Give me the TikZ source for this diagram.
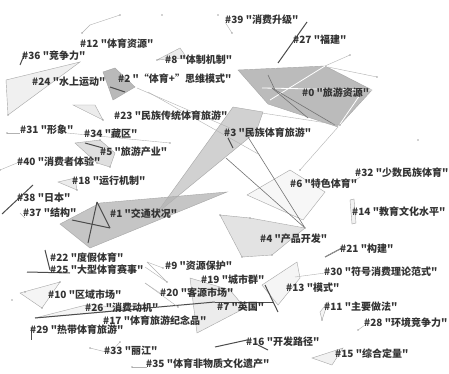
\documentclass[tikz,border=0pt]{standalone}
\usepackage{fontspec}
\newfontfamily\cjk{Noto Sans CJK SC}
\begin{document}
\begin{tikzpicture}[x=1pt,y=-1pt,
  lab/.style={font=\cjk\bfseries\fontsize{10}{10}\selectfont, text=black!80, anchor=west, inner sep=0pt},
  hull/.style={draw=gray!70, line width=0.4pt},
  thin/.style={draw=gray!60, line width=0.4pt},
  wline/.style={draw=white, line width=0.8pt},
  dline/.style={draw=black!70, line width=1pt},
  mline/.style={draw=black!55, line width=0.6pt},
  pt/.style={fill=gray!70, draw=none}]
\useasboundingbox (0,0) rectangle (449,374);
\fill[white] (0,0) rectangle (449,374);
% ---- hulls ----
\filldraw[hull, fill=gray!62, fill opacity=0.85] (238,70) -- (325,66) -- (372,90) -- (338,127) -- (268,104) -- cycle;
\filldraw[hull, fill=gray!45, fill opacity=0.8] (233,107) -- (263,112) -- (256,132) -- (156,214) -- cycle;
\filldraw[hull, fill=gray!60, fill opacity=0.75] (60,224) -- (100,203) -- (227,192) -- (90,248) -- cycle;
\filldraw[hull, fill=gray!55] (103,72) -- (115,68) -- (135,87) -- (113,100) -- cycle;
\filldraw[hull, fill=gray!12] (6,80) -- (80,62) -- (8,115) -- cycle;
\filldraw[hull, fill=gray!15] (157,60) -- (180,48) -- (187,58) -- cycle;
\filldraw[hull, fill=gray!15] (73,105) -- (95,105) -- (103,120) -- cycle;
\filldraw[hull, fill=gray!25] (75,143) -- (100,140) -- (115,153) -- (110,167) -- (97,163) -- cycle;
\filldraw[hull, fill=gray!15] (58,182) -- (75,178) -- (77,190) -- cycle;
\filldraw[hull, fill=gray!22] (220,215) -- (250,218) -- (305,228) -- (272,255) -- (242,257) -- cycle;
\filldraw[hull, fill=gray!6] (247,195) -- (290,170) -- (325,192) -- (303,220) -- cycle;
\filldraw[hull, fill=gray!8] (262,285) -- (297,262) -- (300,278) -- (278,305) -- cycle;
\filldraw[hull, fill=gray!15] (190,278) -- (230,290) -- (245,308) -- (197,333) -- cycle;
\filldraw[hull, fill=gray!10] (312,358) -- (332,365) -- (343,348) -- cycle;
\filldraw[hull, fill=gray!8] (35,318) -- (130,310) -- (90,304) -- cycle;
\filldraw[hull, fill=gray!8] (20,293) -- (42,308) -- (60,282) -- cycle;
\filldraw[hull, fill=gray!8] (320,312) -- (328,302) -- (322,320) -- cycle;
\filldraw[hull, fill=gray!10] (350,200) -- (354,199) -- (356,223) -- (352,224) -- cycle;
% ---- lines inside #0 ----
\draw[wline] (262,88) -- (372,90);
\draw[wline] (270,100) -- (325,66);
\draw[wline] (338,127) -- (360,95);
\draw[mline] (272,88) -- (308,118);
\draw[mline] (272,88) -- (335,125);
\draw[mline] (268,75) -- (275,90);
\draw[thin] (325,66) -- (350,55);
\draw[thin] (328,67) -- (377,77);
% ---- other lines ----
\draw[dline] (307,22) -- (278,63);
\draw[dline] (20,65) -- (25,53);
\draw[dline] (2,214) -- (33,185);
\draw[dline] (85,143) -- (103,148);
\draw[dline] (228,138) -- (233,148);
\draw[dline] (27,272) -- (70,273);
\draw[dline] (45,250) -- (50,270);
\draw[dline] (31,328) -- (31,340);
\draw[dline] (35,318) -- (215,302);
\draw[dline] (215,302) -- (273,302);
\draw[dline] (265,285) -- (278,312);
\draw[dline] (215,347) -- (247,340);
\draw[dline] (258,345) -- (268,350);
\draw[dline] (97,202) -- (88,243);
\draw[dline] (97,202) -- (110,228);
\draw[dline] (72,220) -- (110,228);
\draw[dline] (325,257) -- (342,248);
\draw[dline] (110,87) -- (125,92);
\draw[mline] (248,137) -- (305,228);
\draw[mline] (226,158) -- (305,228);
\draw[thin] (137,88) -- (230,128);
\draw[thin] (148,92) -- (260,155);
\draw[thin] (262,113) -- (340,125);
\draw[thin] (338,127) -- (300,170);
\draw[thin] (90,25) -- (120,15);
\draw[thin] (90,25) -- (82,33);
\draw[thin] (7,133) -- (20,133);
\draw[thin] (67,133) -- (170,143);
\draw[thin] (0,170) -- (17,163);
\draw[thin] (20,213) -- (25,218);
\draw[thin] (147,262) -- (163,268);
\draw[thin] (147,262) -- (167,282);
\draw[thin] (145,267) -- (167,282);
\draw[thin] (145,283) -- (160,293);
\draw[thin] (145,283) -- (178,307);
\draw[thin] (90,348) -- (110,353);
\draw[thin] (110,353) -- (120,342);
\draw[thin] (132,367) -- (147,367);
\draw[thin] (295,277) -- (325,273);
\draw[thin] (358,330) -- (365,325);
\draw[thin] (353,182) -- (360,177);
\draw[thin] (225,22) -- (232,33);
\draw[thin] (325,257) -- (340,249);
% ---- dots ----
\foreach \p in {(162,15),(218,15),(120,15),(82,33),(232,33),(262,15),(350,55),(377,77),(7,133),(170,143),(0,170),(12,300),(25,292),(132,367),(120,342),(90,348),(163,268),(167,282),(178,307),(300,170),(340,125),(322,320),(358,330),(418,140),(305,228),(242,257),(272,255),(220,215),(250,218),(97,163),(110,167),(100,140),(77,190),(157,60),(187,58),(103,120),(8,115),(60,282),(42,308)}
  \fill[pt] \p circle (0.9);
% ---- labels ----
\node[lab] (l39) at (225,20) {\#39 "消费升级"};
\node[lab] (l12) at (80,44) {\#12 "体育资源"};
\node[lab] (l27) at (293,40) {\#27 "福建"};
\node[lab] (l36) at (22,56) {\#36 "竞争力"};
\node[lab] (l8) at (165,60) {\#8 "体制机制"};
\node[lab] (l24) at (32,82) {\#24 "水上运动"};
\node[lab] (l2) at (118,79) {\#2 "“体育+”思维模式"};
\node[lab] (l0) at (302,93) {\#0 "旅游资源"};
\node[lab] (l23) at (114,116) {\#23 "民族传统体育旅游"};
\node[lab] (l31) at (20,130) {\#31 "形象"};
\node[lab] (l34) at (84,134) {\#34 "藏区"};
\node[lab] (l3) at (224,133) {\#3 "民族体育旅游"};
\node[lab] (l5) at (100,152) {\#5 "旅游产业"};
\node[lab] (l40) at (17,162) {\#40 "消费者体验"};
\node[lab] (l32) at (355,173) {\#32 "少数民族体育"};
\node[lab] (l18) at (72,181) {\#18 "运行机制"};
\node[lab] (l6) at (290,184) {\#6 "特色体育"};
\node[lab] (l38) at (17,198) {\#38 "日本"};
\node[lab] (l37) at (23,213) {\#37 "结构"};
\node[lab] (l1) at (110,214) {\#1 "交通状况"};
\node[lab] (l14) at (352,212) {\#14 "教育文化水平"};
\node[lab] (l4) at (260,239) {\#4 "产品开发"};
\node[lab] (l21) at (340,249) {\#21 "构建"};
\node[lab] (l22) at (50,258) {\#22 "度假体育"};
\node[lab] (l9) at (165,266) {\#9 "资源保护"};
\node[lab] (l25) at (50,270) {\#25 "大型体育赛事"};
\node[lab] (l19) at (201,280) {\#19 "城市群"};
\node[lab] (l30) at (324,272) {\#30 "符号消费理论范式"};
\node[lab] (l10) at (48,295) {\#10 "区域市场"};
\node[lab] (l20) at (160,293) {\#20 "客源市场"};
\node[lab] (l13) at (286,288) {\#13 "模式"};
\node[lab] (l26) at (85,308) {\#26 "消费动机"};
\node[lab] (l7) at (217,307) {\#7 "英国"};
\node[lab] (l11) at (324,307) {\#11 "主要做法"};
\node[lab] (l17) at (103,321) {\#17 "体育旅游纪念品"};
\node[lab] (l28) at (364,323) {\#28 "环境竞争力"};
\node[lab] (l29) at (30,330) {\#29 "热带体育旅游"};
\node[lab] (l16) at (246,342) {\#16 "开发路径"};
\node[lab] (l33) at (104,351) {\#33 "丽江"};
\node[lab] (l15) at (335,354) {\#15 "综合定量"};
\node[lab] (l35) at (146,364) {\#35 "体育非物质文化遗产"};
\end{tikzpicture}
\end{document}
